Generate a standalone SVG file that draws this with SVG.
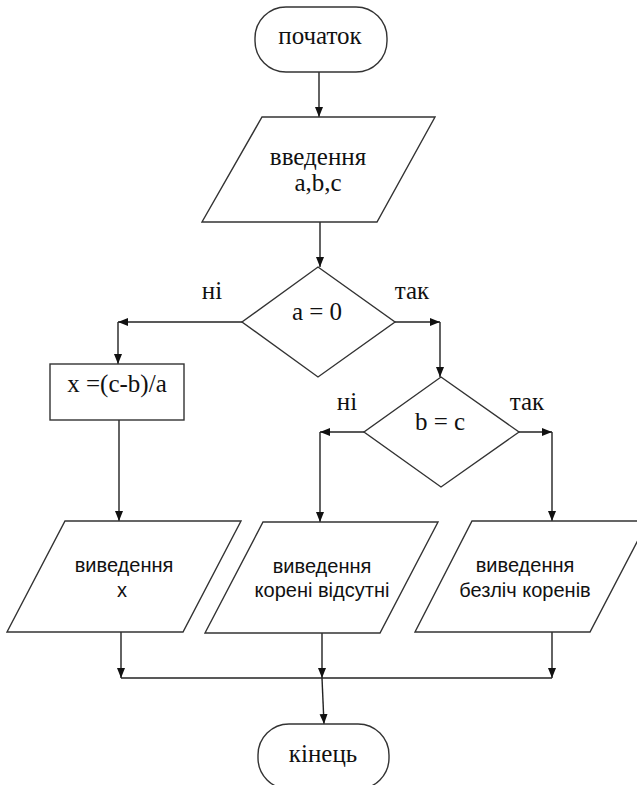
<svg xmlns="http://www.w3.org/2000/svg" width="637" height="785" viewBox="0 0 637 785">
<defs>
<marker id="ah" viewBox="0 0 10 10" refX="10" refY="5" markerWidth="10" markerHeight="10" markerUnits="userSpaceOnUse" orient="auto">
<path d="M0,1 L10,5 L0,9 z" fill="#111"/>
</marker>
<style>
.s{fill:#fff;stroke:#333;stroke-width:1.4}
.c{fill:none;stroke:#222;stroke-width:1.4}
.a{marker-end:url(#ah)}
.t{font-family:"Liberation Serif","Times New Roman",serif;font-size:25px;fill:#111;text-anchor:middle}
.l{font-family:"Liberation Serif","Times New Roman",serif;font-size:25px;fill:#111;text-anchor:middle}
.o{font-family:"Liberation Sans",Arial,sans-serif;font-size:20px;fill:#111;text-anchor:middle}
</style>
</defs>
<rect width="637" height="785" fill="#fff"/>
<g id="connectors">
<path class="c a" d="M319,72 L319,117"/>
<path class="c a" d="M320,222 L320,267"/>
<path class="c a" d="M242,322 L118,322"/>
<path class="c a" d="M118,322 L118,364"/>
<path class="c a" d="M395,322 L440,322"/>
<path class="c a" d="M440,322 L440,377"/>
<path class="c a" d="M364,432 L320,432"/>
<path class="c a" d="M320,432 L320,522"/>
<path class="c a" d="M519,432 L552,432"/>
<path class="c a" d="M552,432 L552,521"/>
<path class="c a" d="M119,420 L119,521"/>
<path class="c a" d="M121,632 L121,678"/>
<path class="c a" d="M322,633 L322,678"/>
<path class="c a" d="M552,632 L552,678"/>
<path class="c" d="M121,678 L552,678"/>
<path class="c a" d="M322,678 L324,724"/>
</g>
<g id="start">
<rect class="s" x="255" y="7" width="132" height="65" rx="31" ry="31"/>
<text class="t" x="320" y="44">початок</text>
</g>
<g id="input">
<polygon class="s" points="262,117 435,117 377,222 202,222"/>
<text class="t" x="318" y="165">введення</text>
<text class="t" x="318" y="191">a,b,c</text>
</g>
<g id="cond1">
<polygon class="s" points="318,267 395,322 318,377 242,322"/>
<text class="t" x="317" y="320">a = 0</text>
<text class="l" x="212" y="299">ні</text>
<text class="l" x="412" y="299">так</text>
</g>
<g id="cond2">
<polygon class="s" points="441,377 519,432 441,487 364,432"/>
<text class="t" x="440" y="430">b = c</text>
<text class="l" x="347" y="410">ні</text>
<text class="l" x="527" y="410">так</text>
</g>
<g id="calc">
<rect class="s" x="50" y="364" width="134" height="56"/>
<text class="t" x="117" y="392">x =(c-b)/a</text>
</g>
<g id="out1">
<polygon class="s" points="65,521 241,521 183,632 7,632"/>
<text class="o" x="124" y="572">виведення</text>
<text class="o" x="122" y="597">x</text>
</g>
<g id="out2">
<polygon class="s" points="263,522 438,522 380,633 205,633"/>
<text class="o" x="322" y="573">виведення</text>
<text class="o" x="322" y="597">корені відсутні</text>
</g>
<g id="out3">
<polygon class="s" points="472,521 648,521 590,632 415,632"/>
<text class="o" x="525" y="572">виведення</text>
<text class="o" x="525" y="597">безліч коренів</text>
</g>
<g id="end">
<rect class="s" x="258" y="724" width="131" height="65" rx="31" ry="31"/>
<text class="t" x="323" y="762">кінець</text>
</g>
</svg>
